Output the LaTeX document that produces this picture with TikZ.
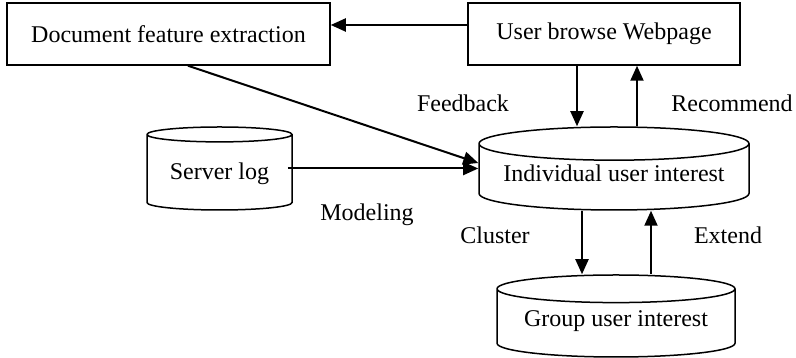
\documentclass[tikz,border=0pt]{standalone}
\usepackage{fontspec}
\setmainfont{Liberation Serif}
\usepackage{tikz}
\usetikzlibrary{arrows.meta}
\usetikzlibrary{positioning,calc,shapes.geometric}

\begin{document}
\begin{tikzpicture}[x=1pt,y=1pt,>={Triangle[length=15pt,width=13pt]},
	font=\fontsize{24}{28}\selectfont,
	box/.style={draw,line width=1.5pt,inner sep=0pt},
	store/.style={draw,line width=1.5pt,cylinder,shape border rotate=90,aspect=0.15,inner sep=0pt,anchor=shape center},
	flow/.style={line width=2pt,->}]
	\useasboundingbox (0,0) rectangle (796,358);
	\node[box,minimum width=323,minimum height=62] (doc) at (168.5,324) {Document feature extraction};
	\node[box,minimum width=272,minimum height=62] (web) at (604,324) {User browse Webpage};
	\node[store,minimum width=270,minimum height=83] (indiv) at (614,189.5) {\phantom{Individual user interest}};
	\node[store,minimum width=145,minimum height=83] (slog) at (219.5,189.5) {\phantom{Server log}};
	\node[store,minimum width=238,minimum height=82] (group) at (616,42) {\phantom{Group user interest}};
	% texts of the stores
	\node (indivtxt) at ([yshift=-5]indiv.shape center) {Individual user interest};
	\node (slogtxt) at ([yshift=-5]slog.shape center) {Server log};
	\node (grouptxt) at ([yshift=-5]group.shape center) {Group user interest};
	% labels
	\node (fb) at (463,255) {Feedback};
	\node (rec) at (732,255) {Recommend};
	\node (mod) at (367,143) {Modeling};
	\node (clu) at (495,123) {Cluster};
	\node (ext) at (728,123) {Extend};
	% flows
	\draw[flow] ($(web.west)+(0,9)$) -- ($(doc.east)+(0,9)$);
	\draw[flow] ([xshift=-27]web.south) -- ([xshift=-27]web.south |- indiv.north);
	\draw[flow] ([xshift=33]web.south |- indiv.north) -- ([xshift=33]web.south);
	\draw[flow] ([xshift=-5]slog.east |- slog.shape center) -- (indiv.west |- slog.shape center);
	\draw[flow] ([xshift=19.5]doc.south) -- ([yshift=5.5]indiv.shape center -| indiv.west);
	\draw[flow] ([xshift=-32]indiv.south) -- ([xshift=-32]indiv.south |- group.north);
	\draw[flow] ([xshift=37]indiv.south |- group.north) -- ([xshift=37]indiv.south);
\end{tikzpicture}
\end{document}
